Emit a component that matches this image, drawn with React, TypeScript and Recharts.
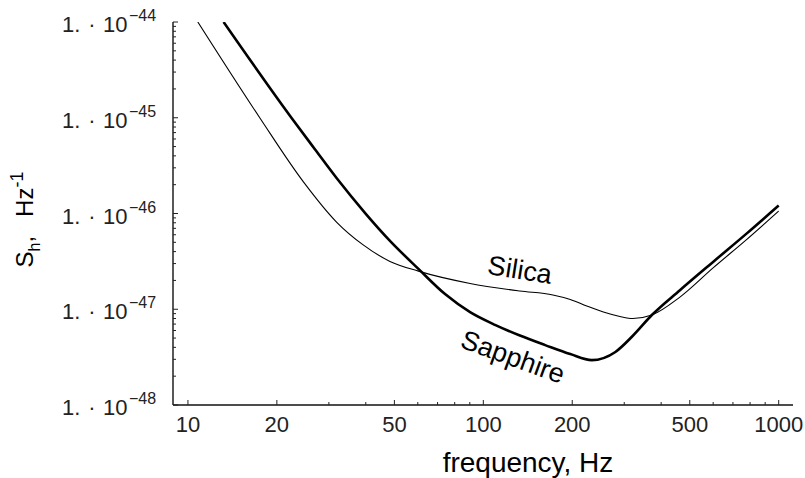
import React from 'react';
import { LineChart, Line, XAxis, YAxis, ReferenceDot } from 'recharts';

// values, log-log plot
const sapphireFreq = [13.2, 22.4, 26.9, 31.9, 40, 48.3, 60.3, 74.2, 90.2, 110, 133, 162, 197, 233, 280, 319, 372, 463, 601, 780, 1000];
const sapphireNoise = [1e-44, 1e-45, 4.69e-46, 2.33e-46, 9.93e-47, 5.18e-47, 2.64e-47, 1.44e-47, 9.33e-48, 6.83e-48, 5.31e-48, 4.22e-48, 3.4e-48, 2.94e-48, 3.58e-48, 5.19e-48, 8.7e-48, 1.58e-47, 3.14e-47, 6.2e-47, 1.21e-46];

const silicaFreq = [10.8, 17.5, 24.6, 31.9, 39.2, 48.3, 60.3, 90.2, 133, 172, 197, 224, 255, 290, 321, 372, 463, 601, 780, 1000];
const silicaNoise = [1e-44, 1e-45, 2.14e-46, 8.1e-47, 4.7e-47, 3.16e-47, 2.5e-47, 1.86e-47, 1.55e-47, 1.41e-47, 1.265e-47, 1.08e-47, 9.35e-48, 8.4e-48, 8.0e-48, 8.7e-48, 1.34e-47, 2.72e-47, 5.37e-47, 1.06e-46];

const majorFreqTicks = [10, 20, 50, 100, 200, 500, 1000];
const minorFreqTicks = [30, 40, 60, 70, 80, 90, 300, 400, 600, 700, 800, 900];
const decadeExponents = [-48, -47, -46, -45, -44];
const mantissas = [2, 3, 4, 5, 6, 7, 8, 9];

const sapphireData = sapphireFreq.map((f, i) => ({ f, s: sapphireNoise[i] }));
const silicaData = silicaFreq.map((f, i) => ({ f, s: silicaNoise[i] }));

const freqTicks = [...majorFreqTicks, ...minorFreqTicks].sort((a, b) => a - b);
const noiseTicks: number[] = [];
decadeExponents.forEach((e) => {
  noiseTicks.push(Math.pow(10, e));
  if (e < -44) mantissas.forEach((m) => noiseTicks.push(m * Math.pow(10, e)));
});

const FONT = '"Liberation Sans", Arial, Helvetica, sans-serif';

const isDecade = (v: number) => {
  const l = Math.log10(v);
  return Math.abs(l - Math.round(l)) < 1e-6;
};

const BottomTick = (props: any) => {
  const { x, y, payload } = props;
  const major = majorFreqTicks.includes(payload.value);
  return (
    <g>
      <line x1={x} x2={x} y1={y} y2={y - (major ? 5 : 3)} stroke="#222" />
      {major && (
        <text x={x} y={y + 27} textAnchor="middle" fontSize={22} fill="#222" fontFamily={FONT}>
          {payload.value}
        </text>
      )}
    </g>
  );
};

const TopTick = (props: any) => {
  const { x, y, payload } = props;
  const major = majorFreqTicks.includes(payload.value);
  return <line x1={x} x2={x} y1={y} y2={y + (major ? 5 : 3)} stroke="#222" />;
};

const LeftTick = (props: any) => {
  const { x, y, payload } = props;
  const major = isDecade(payload.value);
  const exp = Math.round(Math.log10(payload.value));
  return (
    <g>
      <line x1={x} x2={x + (major ? 5 : 3)} y1={y} y2={y} stroke="#222" />
      {major && (
        <g fontSize={22} fill="#222" fontFamily={FONT}>
          <text x={x - 111} y={y + 10}>1.</text>
          <text x={x - 81} y={y + 10} textAnchor="middle">·</text>
          <text x={x - 70} y={y + 10}>10</text>
          <text x={x - 44} y={y - 1} fontSize={16}>{'\u2212' + Math.abs(exp)}</text>
        </g>
      )}
    </g>
  );
};

const RightTick = (props: any) => {
  const { x, y, payload } = props;
  const major = isDecade(payload.value);
  return <line x1={x} x2={x - (major ? 5 : 3)} y1={y} y2={y} stroke="#222" />;
};

const YTitle = (props: any) => {
  const { viewBox } = props;
  const x = viewBox.x + 33;
  const y = viewBox.y + viewBox.height / 2 + 54;
  return (
    <text x={x} y={y} transform={`rotate(-90, ${x}, ${y})`} fontSize={24} fill="#000" fontFamily={FONT}>
      <tspan>S</tspan>
      <tspan dy={7} fontSize={16}>h</tspan>
      <tspan dy={-7}>,</tspan>
      <tspan dx={19}>Hz</tspan>
      <tspan dy={-10} fontSize={18}>-1</tspan>
    </text>
  );
};

const XTitle = (props: any) => {
  const { viewBox } = props;
  return (
    <text x={viewBox.x + viewBox.width / 2 + 45} y={viewBox.y + 67} textAnchor="middle" fontSize={28} fill="#000" fontFamily={FONT}>
      frequency, Hz
    </text>
  );
};

const curveLabel = (text: string, angle: number) => (props: any) => {
  const { viewBox } = props;
  const cx = viewBox.x + viewBox.width / 2;
  const cy = viewBox.y + viewBox.height / 2;
  return (
    <text x={cx} y={cy} transform={`rotate(${angle}, ${cx}, ${cy})`} textAnchor="middle" dominantBaseline="central" fontSize={27} fill="#000" fontFamily={FONT}>
      {text}
    </text>
  );
};

const App = () => {
  return (
    <div style={{ position: 'absolute', left: 0, top: 0, background: '#fff' }}>
      <LineChart width={805} height={478} margin={{ top: 22, right: 12, bottom: 0, left: 0 }}>
        <XAxis
          dataKey="f"
          type="number"
          scale="log"
          domain={[8.9, 1118]}
          allowDataOverflow
          ticks={freqTicks}
          interval={0}
          tickSize={0}
          tickMargin={0}
          tickLine={false}
          tick={<BottomTick />}
          height={73}
          axisLine={{ stroke: '#111', strokeWidth: 1.4 }}
          label={<XTitle />}
        />
        <XAxis
          xAxisId="top"
          orientation="top"
          dataKey="f"
          type="number"
          scale="log"
          domain={[8.9, 1118]}
          allowDataOverflow
          ticks={freqTicks}
          interval={0}
          tickSize={0}
          tickMargin={0}
          tickLine={false}
          tick={<TopTick />}
          height={0}
          axisLine={{ stroke: '#111', strokeWidth: 1.4 }}
        />
        <YAxis
          type="number"
          scale="log"
          domain={[1e-48, 1e-44]}
          allowDataOverflow
          ticks={noiseTicks}
          interval={0}
          tickSize={0}
          tickMargin={0}
          tickLine={false}
          tick={<LeftTick />}
          width={173}
          axisLine={{ stroke: '#111', strokeWidth: 1.4 }}
          label={<YTitle />}
        />
        <YAxis
          yAxisId="right"
          orientation="right"
          type="number"
          scale="log"
          domain={[1e-48, 1e-44]}
          allowDataOverflow
          ticks={noiseTicks}
          interval={0}
          tickSize={0}
          tickMargin={0}
          tickLine={false}
          tick={<RightTick />}
          width={0}
          axisLine={{ stroke: '#111', strokeWidth: 1.4 }}
        />
        <Line data={silicaData} dataKey="s" type="monotone" stroke="#000" strokeWidth={1.1} dot={false} isAnimationActive={false} />
        <Line data={sapphireData} dataKey="s" type="monotone" stroke="#000" strokeWidth={2.6} dot={false} isAnimationActive={false} />
        <ReferenceDot x={133} y={2.57e-47} r={0} fill="none" stroke="none" label={curveLabel('Silica', 9)} />
        <ReferenceDot x={126} y={3.17e-48} r={0} fill="none" stroke="none" label={curveLabel('Sapphire', 20)} />
      </LineChart>
    </div>
  );
};

export default App;
